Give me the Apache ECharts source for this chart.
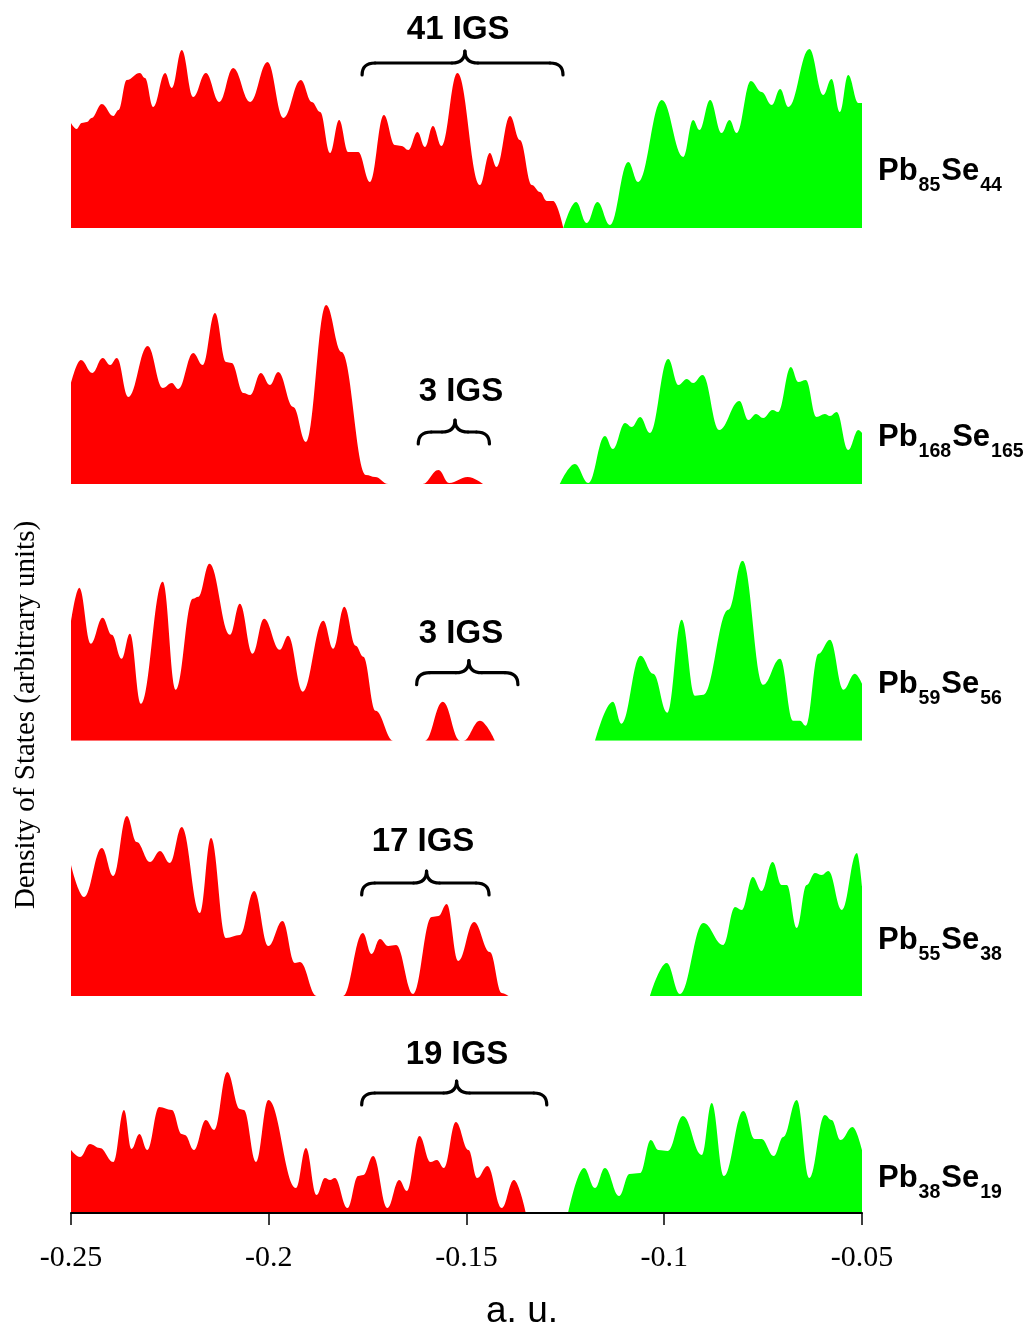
<!DOCTYPE html>
<html><head><meta charset="utf-8">
<script src="https://cdn.jsdelivr.net/npm/echarts@6/dist/echarts.min.js"></script>
<style>html,body{margin:0;padding:0;background:#fff}#c{width:1032px;height:1329px}</style>
</head><body><div id="c"></div>
<script>
// ---- data (energy in a.u., DOS in arbitrary units) ----
const xTicks = [-0.25, -0.2, -0.15, -0.1, -0.05];

const p1Red = [[-0.25,105],[-0.2486,99],[-0.2473,105],[-0.2460,106],[-0.2448,110],[-0.2422,124],[-0.2393,112],[-0.2380,118],[-0.2359,148],[-0.2326,155],[-0.2313,150],[-0.2292,121],[-0.2262,155],[-0.2245,140],[-0.2220,178],[-0.2191,131],[-0.2159,155],[-0.2125,126],[-0.2090,160],[-0.2047,126],[-0.2003,166],[-0.1963,110],[-0.1919,148],[-0.1891,126],[-0.1870,116],[-0.1845,75],[-0.1822,108],[-0.1799,76],[-0.1774,76],[-0.1744,46],[-0.1709,113],[-0.1681,83],[-0.1664,82],[-0.1647,78],[-0.1624,96],[-0.1605,81],[-0.1585,102],[-0.1563,82],[-0.1523,155],[-0.1466,43],[-0.1441,75],[-0.1424,61],[-0.1390,112],[-0.1365,88],[-0.1335,43],[-0.1314,36],[-0.1297,27],[-0.1281,27],[-0.1255,0]];
const p1Green = [[-0.1255,0],[-0.1223,26],[-0.1196,5],[-0.1169,26],[-0.1137,3],[-0.1091,66],[-0.1066,46],[-0.1006,128],[-0.0952,71],[-0.0927,108],[-0.0911,98],[-0.0884,128],[-0.0855,95],[-0.0835,108],[-0.0817,95],[-0.0781,147],[-0.0754,136],[-0.0728,123],[-0.0707,139],[-0.0686,121],[-0.0633,179],[-0.0598,133],[-0.0577,149],[-0.0556,116],[-0.0535,153],[-0.0509,125],[-0.05,125]];

const p2Red = [[-0.25,101],[-0.2475,124],[-0.2446,111],[-0.2420,126],[-0.2401,119],[-0.2384,126],[-0.2355,87],[-0.2306,138],[-0.2268,96],[-0.2245,101],[-0.2229,95],[-0.2191,131],[-0.2167,119],[-0.2136,171],[-0.2108,122],[-0.2094,121],[-0.2064,91],[-0.2047,89],[-0.2020,111],[-0.1997,99],[-0.1976,112],[-0.1938,77],[-0.1906,42],[-0.1855,179],[-0.1816,132],[-0.1754,9],[-0.1731,7],[-0.1698,0],[-0.1611,0],[-0.1571,14],[-0.1544,1],[-0.1497,7],[-0.1458,0]];
const p2Green = [[-0.1264,0],[-0.1226,20],[-0.1192,1],[-0.1150,48],[-0.1130,35],[-0.1099,61],[-0.1082,57],[-0.1061,67],[-0.1036,51],[-0.0990,125],[-0.0964,99],[-0.0943,105],[-0.0927,101],[-0.0903,109],[-0.0861,54],[-0.0810,83],[-0.0787,64],[-0.0768,70],[-0.0750,66],[-0.0726,74],[-0.0712,72],[-0.0680,117],[-0.0661,102],[-0.0642,104],[-0.0615,67],[-0.0594,70],[-0.0581,68],[-0.0564,72],[-0.0535,34],[-0.0509,54],[-0.05,51]];

const p3Red = [[-0.25,119],[-0.2479,153],[-0.2450,97],[-0.2420,123],[-0.2397,106],[-0.2372,82],[-0.2351,107],[-0.2323,37],[-0.2268,159],[-0.2235,51],[-0.2192,142],[-0.2178,144],[-0.2150,177],[-0.2098,106],[-0.2073,137],[-0.2041,87],[-0.2012,122],[-0.1972,91],[-0.1951,105],[-0.1914,49],[-0.1862,120],[-0.1837,92],[-0.1809,134],[-0.1780,95],[-0.1761,84],[-0.1730,30],[-0.1685,0],[-0.1605,0],[-0.1560,39],[-0.1516,0],[-0.1508,0],[-0.1466,20],[-0.1428,0]];
const p3Green = [[-0.1175,0],[-0.1130,39],[-0.1108,17],[-0.1060,85],[-0.1028,67],[-0.0992,28],[-0.0956,121],[-0.0922,45],[-0.0901,46],[-0.0838,131],[-0.0802,180],[-0.0750,56],[-0.0707,82],[-0.0674,20],[-0.0657,20],[-0.0642,15],[-0.0610,87],[-0.0581,101],[-0.0547,51],[-0.0518,67],[-0.05,57]];

const p4Red = [[-0.25,131],[-0.2467,99],[-0.2422,148],[-0.2393,120],[-0.2359,180],[-0.2334,154],[-0.2300,134],[-0.2275,145],[-0.2250,133],[-0.2220,169],[-0.2174,83],[-0.2146,158],[-0.2108,58],[-0.2073,61],[-0.2037,105],[-0.2001,50],[-0.1965,75],[-0.1934,33],[-0.1921,34],[-0.1879,0],[-0.1812,0],[-0.1762,63],[-0.1740,42],[-0.1719,57],[-0.1698,50],[-0.1678,51],[-0.1635,2],[-0.1588,79],[-0.1571,80],[-0.1550,92],[-0.1521,35],[-0.1481,74],[-0.1441,44],[-0.1411,3],[-0.1394,0]];
const p4Green = [[-0.1036,0],[-0.0994,33],[-0.0960,2],[-0.0901,73],[-0.0851,51],[-0.0821,89],[-0.0804,86],[-0.0776,119],[-0.0754,105],[-0.0726,134],[-0.0703,111],[-0.0690,111],[-0.0665,68],[-0.0640,111],[-0.0619,123],[-0.0602,121],[-0.0585,125],[-0.0551,86],[-0.0513,143],[-0.05,110]];

const p5Red = [[-0.25,63],[-0.2477,56],[-0.2452,69],[-0.2427,65],[-0.2393,51],[-0.2366,103],[-0.2347,64],[-0.2327,79],[-0.2307,63],[-0.2277,106],[-0.2245,103],[-0.2220,79],[-0.2212,78],[-0.2189,63],[-0.2159,93],[-0.2138,83],[-0.2105,141],[-0.2073,104],[-0.2063,103],[-0.2032,51],[-0.2001,113],[-0.1931,25],[-0.1906,65],[-0.1879,18],[-0.1858,35],[-0.1845,33],[-0.1833,35],[-0.1801,5],[-0.1774,37],[-0.1761,38],[-0.1736,57],[-0.1700,5],[-0.1670,33],[-0.1651,22],[-0.1619,77],[-0.1591,51],[-0.1575,53],[-0.1557,45],[-0.1527,91],[-0.1495,63],[-0.1473,35],[-0.1447,47],[-0.1411,5],[-0.1380,33],[-0.1350,0]];
const p5Green = [[-0.1243,0],[-0.1203,45],[-0.1175,25],[-0.1150,45],[-0.1114,17],[-0.1088,39],[-0.1061,40],[-0.1034,73],[-0.1015,63],[-0.0991,62],[-0.0953,97],[-0.0905,58],[-0.0880,110],[-0.0849,37],[-0.0800,102],[-0.0771,74],[-0.0754,74],[-0.0723,57],[-0.0699,76],[-0.0665,113],[-0.0633,35],[-0.0594,98],[-0.0577,93],[-0.0554,73],[-0.0524,86],[-0.05,63]];

const occupied = [p1Red, p2Red, p3Red, p4Red, p5Red];
const unoccupied = [p1Green, p2Green, p3Green, p4Green, p5Green];

const panelSubs = [['85','44'],['168','165'],['59','56'],['55','38'],['38','19']];
const igsLabels = ['41 IGS','3 IGS','3 IGS','17 IGS','19 IGS'];
// brace: [left x, tip x, right x] in energy units
const igsBraceX = [[-0.1764,-0.1504,-0.1256],[-0.1622,-0.1529,-0.1442],[-0.1626,-0.1494,-0.1370],[-0.1765,-0.1601,-0.1443],[-0.1765,-0.1525,-0.1297]];
const igsBraceLevel = [165, 52, 68, 113, 120];
const igsTextPos = [[-0.1521,198],[-0.1514,92],[-0.1514,107],[-0.1610,154],[-0.1524,158]];

// ---- layout ----
const gridTops = [48, 304, 560.7, 816, 1033];
const gridH = 180, gridLeft = 71, gridW = 791;

const chart = echarts.init(document.getElementById('c'), null, {renderer: 'canvas'});
const grids = [], xAxes = [], yAxes = [], series = [];
for (let i = 0; i < 5; i++) {
  grids.push({left: gridLeft, top: gridTops[i], width: gridW, height: gridH, containLabel: false});
  const last = i === 4;
  xAxes.push({
    type: 'value', gridIndex: i, min: -0.25, max: -0.05, interval: 0.05,
    show: true,
    axisLine: {show: last, onZero: false, lineStyle: {color: '#000', width: 2}},
    axisTick: {show: last, length: 12, lineStyle: {color: '#000', width: 1.5}},
    axisLabel: {show: last, color: '#000', fontFamily: 'Liberation Serif', fontSize: 30, margin: 30,
      formatter: v => { const t = xTicks.find(k => Math.abs(k - v) < 1e-9); return t === undefined ? '' : String(t); }},
    splitLine: {show: false}, z: 5
  });
  yAxes.push({type: 'value', gridIndex: i, min: 0, max: 180, show: false, splitLine: {show: false}});
  const common = {type: 'line', xAxisIndex: i, yAxisIndex: i, showSymbol: false, symbol: 'none',
    smooth: 0.4, smoothMonotone: 'x', lineStyle: {width: 0, opacity: 0}, silent: true, z: 2};
  series.push(Object.assign({}, common, {name: 'occ' + i, data: occupied[i], areaStyle: {color: '#ff0000', opacity: 1}}));
  series.push(Object.assign({}, common, {name: 'unocc' + i, data: unoccupied[i], areaStyle: {color: '#00ff00', opacity: 1}}));
}

chart.setOption({animation: false, backgroundColor: '#fff', grid: grids, xAxis: xAxes, yAxis: yAxes, series: series});

const braceStyle = {fill: null, stroke: '#000', lineWidth: 3.2, lineCap: 'round'};
function braceGroup(x0, xt, x1, yH, up, down, r) {
  const q = (ax, ay, cx, cy, bx, by) => ({type: 'bezierCurve', shape: {x1: ax, y1: ay, cpx1: cx, cpy1: cy, x2: bx, y2: by}, style: braceStyle});
  const l = (ax, ay, bx, by) => ({type: 'line', shape: {x1: ax, y1: ay, x2: bx, y2: by}, style: braceStyle});
  return {type: 'group', z: 100, children: [
    q(x0, yH + down, x0, yH, x0 + r, yH),
    l(x0 + r, yH, xt - r, yH),
    q(xt - r, yH, xt, yH, xt, yH - up),
    q(xt, yH - up, xt, yH, xt + r, yH),
    l(xt + r, yH, x1 - r, yH),
    q(x1 - r, yH, x1, yH, x1, yH + down)
  ]};
}

const graphics = [];
const labelY = [176, 442, 689, 945, 1183];
for (let i = 0; i < 5; i++) {
  const [bl, bt, br] = igsBraceX[i];
  const pL = chart.convertToPixel({gridIndex: i}, [bl, igsBraceLevel[i]]);
  const pT = chart.convertToPixel({gridIndex: i}, [bt, igsBraceLevel[i]]);
  const pR = chart.convertToPixel({gridIndex: i}, [br, igsBraceLevel[i]]);
  graphics.push(braceGroup(pL[0], pT[0], pR[0], pL[1], 12, 12, 13));
  const tp = chart.convertToPixel({gridIndex: i}, igsTextPos[i]);
  graphics.push({type: 'text', z: 100, x: tp[0], y: tp[1],
    style: {text: igsLabels[i], fill: '#000', fontFamily: 'Liberation Sans', fontWeight: 'bold', fontSize: 33,
      align: 'center', verticalAlign: 'middle'}});
  const s = panelSubs[i];
  graphics.push({type: 'text', z: 100, x: 878, y: labelY[i],
    style: {text: `{m|Pb}{s|${s[0]}}{m|Se}{s|${s[1]}}`, fill: '#000', align: 'left', verticalAlign: 'middle',
      rich: {
        m: {fontFamily: 'Liberation Sans', fontWeight: 'bold', fontSize: 31, lineHeight: 40, verticalAlign: 'top', fill: '#000'},
        s: {fontFamily: 'Liberation Sans', fontWeight: 'bold', fontSize: 19.5, lineHeight: 19, verticalAlign: 'bottom', fill: '#000', padding: [0, 1, 0, 1]}
      }}});
}
graphics.push({type: 'text', z: 100, x: 26, y: 715, rotation: Math.PI / 2,
  style: {text: 'Density of States (arbitrary units)', fill: '#000', fontFamily: 'Liberation Serif', fontSize: 29,
    align: 'center', verticalAlign: 'middle'}});
graphics.push({type: 'text', z: 100, x: 522, y: 1312,
  style: {text: 'a. u.', fill: '#000', fontFamily: 'Liberation Sans', fontSize: 37, align: 'center', verticalAlign: 'middle'}});

chart.setOption({graphic: graphics});
</script>
</body></html>
